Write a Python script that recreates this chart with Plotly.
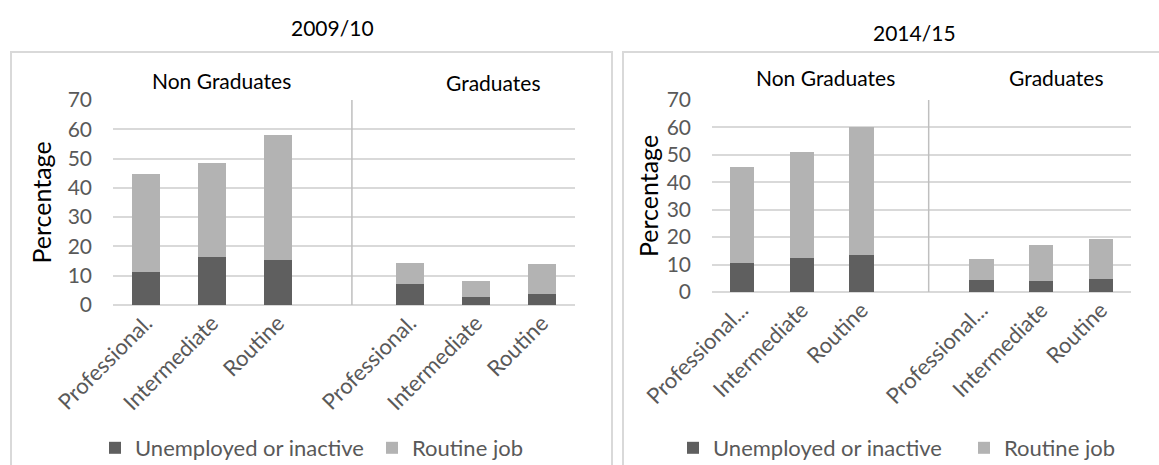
import plotly.graph_objects as go

# Occupation categories within each education group
occupations_0910 = ["Professional.", "Intermediate", "Routine"]
occupations_1415 = ["Professional...", "Intermediate", "Routine"]
groups = ["Non Graduates", "Graduates"]
periods = ["2009/10", "2014/15"]
series_names = ["Unemployed or inactive", "Routine job"]

# Percentages: Non Graduates (3 occupations) followed by Graduates (3 occupations)
unemployed_0910 = [11.3, 16.5, 15.4, 7.2, 2.8, 3.8]
routine_0910 = [33.4, 31.9, 42.6, 7.2, 5.5, 10.1]
unemployed_1415 = [10.7, 12.5, 13.4, 4.3, 3.9, 4.8]
routine_1415 = [34.7, 38.6, 46.9, 7.8, 13.3, 14.6]

y_ticks = [0, 10, 20, 30, 40, 50, 60, 70]

DARK = "#5f5f5f"
LIGHT = "#b3b3b3"
GRID = "#d9d9d9"
FONT = "Lato"
W, H = 1159, 465

# slot positions: three per group with an empty slot between the groups
slots = [0, 1, 2, 4, 5, 6]

fig = go.Figure()

panels = [
    dict(xa="x", ya="y", unemp=unemployed_0910, rout=routine_0910,
         labels=occupations_0910 * 2, legend="legend"),
    dict(xa="x2", ya="y2", unemp=unemployed_1415, rout=routine_1415,
         labels=occupations_1415 * 2, legend="legend2"),
]

for p in panels:
    fig.add_trace(go.Bar(x=slots, y=p["unemp"], name=series_names[0],
                         marker=dict(color=DARK, line=dict(width=0)),
                         width=0.41, xaxis=p["xa"], yaxis=p["ya"],
                         legend=p["legend"]))
    fig.add_trace(go.Bar(x=slots, y=p["rout"], name=series_names[1],
                         marker=dict(color=LIGHT, line=dict(width=0)),
                         width=0.41, xaxis=p["xa"], yaxis=p["ya"],
                         legend=p["legend"]))

def xaxis(domain, labels, anchor):
    return dict(domain=domain, anchor=anchor, range=[-0.5, 6.5],
                tickmode="array", tickvals=slots, ticktext=labels,
                tickangle=-45, showgrid=False, zeroline=False,
                showline=False, ticks="", automargin=False,
                tickfont=dict(family=FONT, size=22, color="#595959"))

def yaxis(domain, anchor, standoff):
    return dict(domain=domain, anchor=anchor, range=[0, 70],
                tickmode="array", tickvals=y_ticks, automargin=False,
                showgrid=True, gridcolor=GRID, gridwidth=1.5,
                zeroline=True, zerolinecolor=GRID, zerolinewidth=1.5,
                showline=False, ticks="", ticklabelstandoff=20,
                tickfont=dict(family=FONT, size=21, color="#595959"),
                title=dict(text="Percentage", standoff=standoff,
                           font=dict(family=FONT, size=25, color="#000000")))

legend_font = dict(family=FONT, size=22, color="#595959")

fig.update_layout(
    width=W, height=H,
    margin=dict(l=0, r=0, t=0, b=0, autoexpand=False),
    paper_bgcolor="white", plot_bgcolor="white",
    barmode="stack",
    font=dict(family=FONT, color="#000000"),
    xaxis=xaxis([113 / W, 575 / W], panels[0]["labels"], "y"),
    yaxis=yaxis([1 - 305 / H, 1 - 100 / H], "x", 8),
    xaxis2=xaxis([712 / W, 1131 / W], panels[1]["labels"], "y2"),
    yaxis2=yaxis([1 - 292 / H, 1 - 100 / H], "x2", 0),
    legend=dict(orientation="h", x=95 / W, y=1 - 427 / H,
                xanchor="left", yanchor="top", traceorder="normal",
                entrywidth=232, font=legend_font,
                bgcolor="rgba(0,0,0,0)"),
    legend2=dict(orientation="h", x=673 / W, y=1 - 427 / H,
                 xanchor="left", yanchor="top", traceorder="normal",
                 entrywidth=246, font=legend_font,
                 bgcolor="rgba(0,0,0,0)"),
    bargap=0.59,
)

# Panel frames
frames = [(11, 612), (623, 1170)]
for x0, x1 in frames:
    fig.add_shape(type="rect", xref="paper", yref="paper",
                  x0=x0 / W, x1=x1 / W, y0=-0.05, y1=1 - 52 / H,
                  line=dict(color=GRID, width=2), fillcolor="rgba(0,0,0,0)",
                  layer="below")

# Divider between the two education groups
for xa, ya, top in [("x", "y", 70), ("x2", "y2", 70.7)]:
    fig.add_shape(type="line", xref=xa, yref=ya, x0=3.12, x1=3.12,
                  y0=0, y1=top, line=dict(color="#bfbfbf", width=1.5))

# Period titles
for txt, cx, cy in [(periods[0], 332, 27), (periods[1], 914, 33)]:
    fig.add_annotation(text=txt, xref="paper", yref="paper",
                       x=cx / W, y=1 - cy / H, showarrow=False,
                       xanchor="center", yanchor="middle",
                       font=dict(family=FONT, size=21, color="#000000"))

# Group labels above the bars
group_pos = [(221, 80, groups[0]), (494, 83, groups[1]),
             (825, 78, groups[0]), (1056, 78, groups[1])]
for cx, cy, txt in group_pos:
    fig.add_annotation(text=txt, xref="paper", yref="paper",
                       x=cx / W, y=1 - cy / H, showarrow=False,
                       xanchor="center", yanchor="middle",
                       font=dict(family=FONT, size=21, color="#000000"))

fig.write_html("out.html")
